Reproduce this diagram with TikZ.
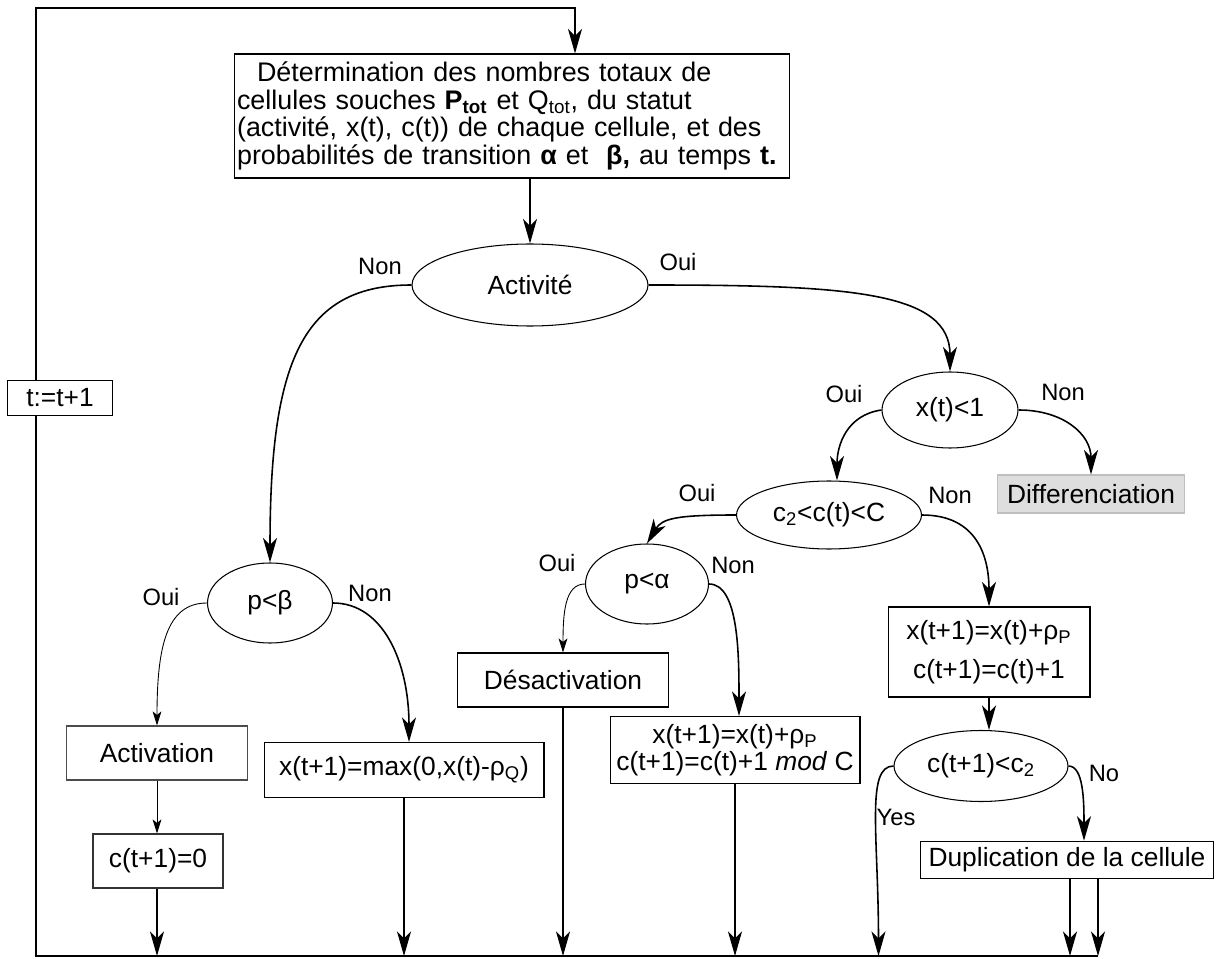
\documentclass[tikz,border=0pt]{standalone}
\usepackage{fontspec}
\setmainfont{Liberation Sans}
\usetikzlibrary{shapes.geometric,arrows.meta}

\tikzset{
  box/.style={draw, line width=0.6pt, inner sep=0pt, font=\fontsize{15}{17.5}\selectfont},
  test/.style={draw, ellipse, line width=0.6pt, inner sep=0pt, font=\fontsize{15}{17.5}\selectfont},
  lab/.style={inner sep=0pt, font=\fontsize{13.5}{15}\selectfont},
  fl/.style={line width=0.9pt, -{Stealth[length=14pt,width=8pt,inset=4pt]}},
  fld/.style={line width=0.6pt, -{Stealth[length=14pt,width=8pt,inset=4pt]}},
  fls/.style={line width=0.5pt, -{Stealth[length=8pt,width=5pt,inset=2pt]}},
}

\begin{document}
\begin{tikzpicture}[x=0.02cm,y=-0.02cm]
\useasboundingbox (0,0) rectangle (1217,959);

\coordinate (tl) at (36,8);
\coordinate (tr) at (575,8);
\coordinate (bl) at (36,956);
\coordinate (br) at (1098,956);

\node[box, minimum width=11.12cm, minimum height=2.48cm, text width=11.0cm, align=left,
  font=\fontsize{15.3}{15.6}\selectfont] (main) at (512,116)
  {\hspace*{0.4cm}Détermination des nombres totaux de\\
   cellules souches \textbf{P\textsubscript{tot}} et Q\textsubscript{tot}, du statut\\
   (activité, x(t), c(t)) de chaque cellule, et des\\
   probabilités de transition \textbf{α} et \ \textbf{β,} au temps \textbf{t.}};

% boucle t -> t+1
\draw[fl] (br) -- (bl) -- (tl) -- (tr) -- (tr |- main.north);
\node[box, fill=white, minimum width=2.1cm, minimum height=0.7cm] (tinc) at (60,398) {t:=t+1};

\node[test, minimum width=4.72cm, minimum height=1.64cm] (act) at (530,285) {Activité};
\node[test, minimum width=2.72cm, minimum height=1.52cm] (xt) at (950,410) {x(t)<1};
\node[test, minimum width=3.7cm, minimum height=1.36cm] (c2) at (829,515) {c\textsubscript{2}<c(t)<C};
\node[test, minimum width=2.46cm, minimum height=1.6cm] (pa) at (647,584) {p<α};
\node[test, minimum width=2.5cm, minimum height=1.6cm] (pb) at (270,603) {p<β};
\node[test, minimum width=3.48cm, minimum height=1.42cm] (cc) at (981,766) {c(t+1)<c\textsubscript{2}};

\node[box, draw=black!25, fill=black!13, minimum width=3.74cm, minimum height=0.76cm] (diff) at (1091,494) {Differenciation};
\node[box, minimum width=4.04cm, minimum height=1.8cm, align=center] (rbox) at (989,652)
  {x(t+1)=x(t)+ρ\textsubscript{P}\\[5pt] c(t+1)=c(t)+1};
\node[box, minimum width=5.0cm, minimum height=1.34cm, align=center,
  font=\fontsize{15}{15.5}\selectfont] (mod) at (735,750)
  {x(t+1)=x(t)+ρ\textsubscript{P}\\ c(t+1)=c(t)+1 \textit{mod} C};
\node[box, minimum width=4.22cm, minimum height=1.08cm] (desact) at (563,680) {Désactivation};
\node[box, draw=black!70, minimum width=3.62cm, minimum height=1.08cm] (acti) at (157,753) {Activation};
\node[box, draw=black!80, minimum width=2.6cm, minimum height=1.08cm] (c0) at (158,861) {c(t+1)=0};
\node[box, minimum width=5.6cm, minimum height=1.1cm] (maxb) at (404,770) {x(t+1)=max(0,x(t)-ρ\textsubscript{Q})};
\node[box, line width=0.9pt, minimum width=5.86cm, minimum height=0.74cm] (dup) at (1067,860) {Duplication de la cellule};

% etiquettes
\node[lab] (nact) at (380,266) {Non};
\node[lab] (oact) at (678,262) {Oui};
\node[lab] (oxt) at (844,394) {Oui};
\node[lab] (nxt) at (1063,392) {Non};
\node[lab] (oc2) at (697,493) {Oui};
\node[lab] (nc2) at (950,495) {Non};
\node[lab] (opa) at (557,563) {Oui};
\node[lab] (npa) at (733,565) {Non};
\node[lab] (opb) at (161,597) {Oui};
\node[lab] (npb) at (370,593) {Non};
\node[lab] (ycc) at (896,817) {Yes};
\node[lab] (ncc) at (1104,773) {No};

% fleches
\draw[fl] (act.north |- main.south) -- (act.north);
\draw[fl] (act.west) .. controls +(-110,0) and +(0,-200) .. (pb.north);
\draw[fl] (act.east) .. controls +(200,0) and +(0,-80) .. (xt.north);
\draw[fl] (xt.west) .. controls +(-35,5) and +(0,-35) .. ([xshift=0.16cm]c2.north);
\draw[fl] (xt.east) .. controls +(45,0) and +(0,-40) .. (diff.north);
\draw[fl] (c2.west) .. controls +(-60,0) and +(15,-25) .. (pa.north);
\draw[fl] (c2.east) .. controls +(55,0) and +(0,-50) .. (rbox.north);
\draw[fls] (pa.west) .. controls +(-20,0) and +(0,-40) .. (desact.north);
\draw[fl] (pa.east) .. controls +(30,0) and +(0,-60) .. ([xshift=0.08cm]mod.north);
\draw[fl] (rbox.south) -- (rbox.south |- cc.north);
\draw[fl] (cc.west) .. controls +(-28,0) and +(0,-120) .. ([xshift=-0.3cm]cc.west |- bl);
\draw[fl] (cc.east) .. controls +(15,0) and +(0,-40) .. ([xshift=0.34cm]dup.north);
\draw[fl] ([xshift=0.06cm]dup.south) -- ([xshift=0.06cm]dup.south |- bl);
\draw[fld] ([xshift=0.62cm]dup.south) -- ([xshift=0.62cm]dup.south |- bl);
\draw[fls] (pb.west) .. controls +(-40,0) and +(0,-80) .. (acti.north);
\draw[fl] (pb.east) .. controls +(50,0) and +(0,-80) .. ([xshift=0.1cm]maxb.north);
\draw[fls] (acti.south) -- (acti.south |- c0.north);
\draw[fl] (acti.south |- c0.south) -- (acti.south |- bl);
\draw[fld] (maxb.south) -- (maxb.south |- bl);
\draw[fld] (desact.south) -- (desact.south |- bl);
\draw[fld] (mod.south) -- (mod.south |- bl);
\end{tikzpicture}
\end{document}
